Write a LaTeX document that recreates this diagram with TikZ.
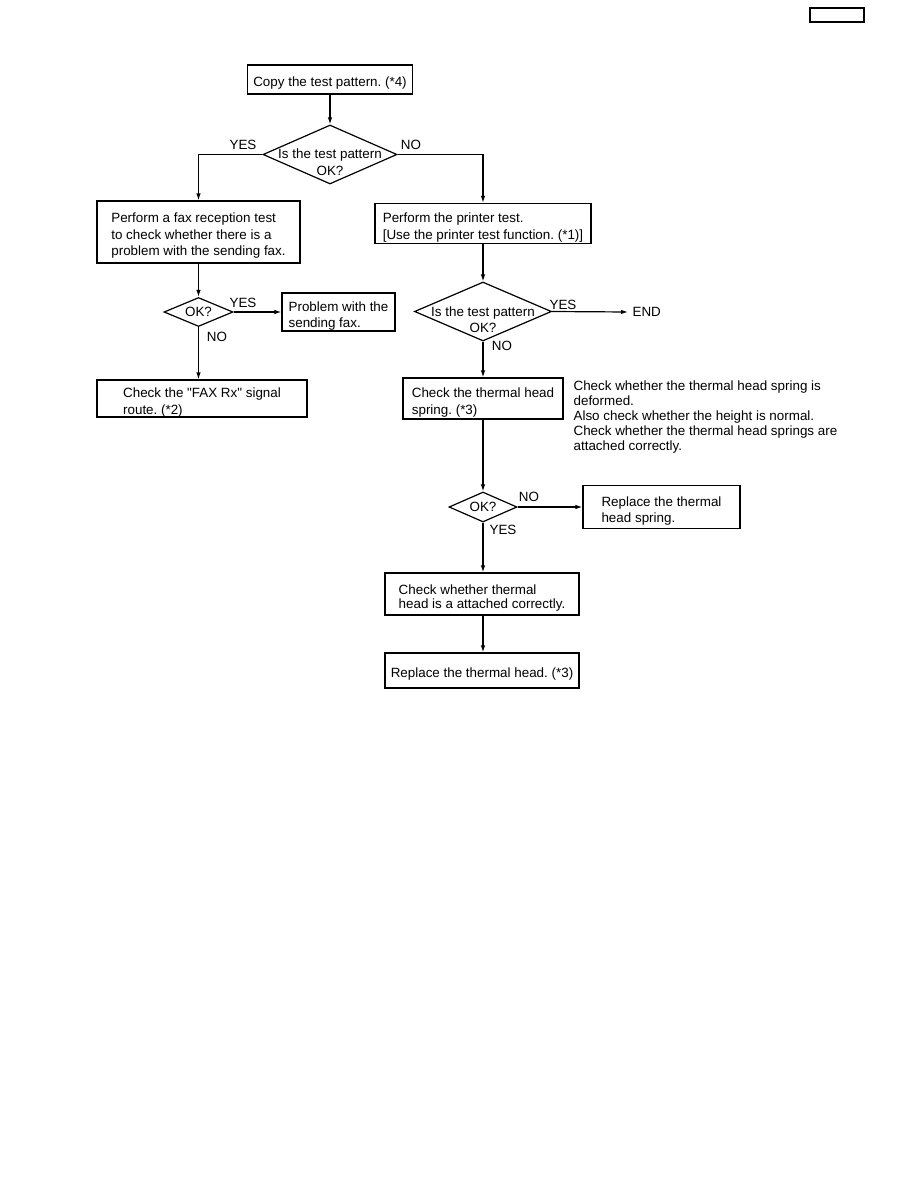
\documentclass[tikz,border=0pt]{standalone}
\usepackage{fontspec}
\setmainfont{Liberation Sans}[Ligatures=TeXOff]
\usetikzlibrary{arrows.meta, shapes.geometric, calc}
\frenchspacing
% strut that pushes box text down a little
\newcommand\tp{\rule{0pt}{17.5pt}}

\begin{document}
\begin{tikzpicture}[x=1pt, y=-1pt, line width=1.2pt,
  >={Latex[length=7pt,width=4.5pt]},
  font=\fontsize{13.4}{16.5}\selectfont,
  box/.style={draw, rectangle, align=left, inner xsep=2pt, inner ysep=0pt},
  decision/.style={draw, diamond, inner sep=0pt},
  qtext/.style={align=center, inner sep=0pt},
  lbl/.style={inner sep=0pt}]
\useasboundingbox (0,0) rectangle (918,1188);

% Page box
\node[draw, minimum width=54pt, minimum height=14pt, inner sep=0pt] (pagebox) at (837,15) {};

% Start
\node[box, minimum width=165pt, minimum height=29pt] (copy) at (330,79.5) {\tp Copy the test pattern. (*4)};
\node[decision, minimum width=134pt, minimum height=59pt] (q1) at (330,154.5) {};
\node[qtext] (q1t) at ([yshift=-7.5pt]q1.center) {Is the test pattern\\OK?};
\node[lbl] (yes1) at (243,145) {YES};
\node[lbl] (no1) at (411,145) {NO};

% Left branch
\node[box, minimum width=203pt, minimum height=62pt] (fax) at (198.5,232) {\tp Perform a fax reception test\\to check whether there is a\\problem with the sending fax.};
\node[decision, minimum width=69pt, minimum height=29pt] (ok1) at (198.5,312) {};
\node[qtext] (ok1t) at (ok1.center) {OK?};
\node[lbl] (yes2) at (243,303) {YES};
\node[lbl] (no2) at (217,337) {NO};
\node[box, minimum width=113pt, minimum height=38pt] (prob) at (338.5,312) {\tp Problem with the\\sending fax.};
\node[box, minimum width=210pt, minimum height=37pt] (faxrx) at (202,398.5) {\tp Check the "FAX Rx" signal\\route. (*2)};

% Right branch
\node[box, minimum width=216pt, minimum height=40pt] (prn) at (483,223.5) {\tp Perform the printer test.\\{[}Use the printer test function. (*1)]};
\node[decision, minimum width=137pt, minimum height=59pt] (q2) at (483,311.5) {};
\node[qtext] (q2t) at ([yshift=-8pt]q2.center) {Is the test pattern\\OK?};
\node[lbl] (yes3) at (563,305) {YES};
\node[lbl] (no3) at (502,346) {NO};
\node[lbl, anchor=west, inner sep=4pt] (endt) at (628,312) {END};
\node[box, minimum width=160pt, minimum height=41pt] (spring) at (483,398.5) {\tp Check the thermal head\\spring. (*3)};
\node[lbl, anchor=north west, align=left, font=\fontsize{13.4}{15}\selectfont] (note) at (573,380) {Check whether the thermal head spring is\\deformed.\\Also check whether the height is normal.\\Check whether the thermal head springs are\\attached correctly.};
\node[decision, minimum width=68pt, minimum height=30pt] (ok2) at (483,507) {};
\node[qtext] (ok2t) at (ok2.center) {OK?};
\node[lbl] (no4) at (529,497) {NO};
\node[lbl] (yes4) at (503,530) {YES};
\node[box, minimum width=157pt, minimum height=43pt] (rspring) at (661.5,507) {\tp Replace the thermal\\head spring.};
\node[box, minimum width=194pt, minimum height=42pt, font=\fontsize{13.4}{14.5}\selectfont] (chk) at (482,594) {\tp Check whether thermal\\head is a attached correctly.};
\node[box, minimum width=194pt, minimum height=35pt] (rhead) at (482,670.5) {\tp Replace the thermal head. (*3)};

% Connectors
\draw[->] (copy.south) -- (q1.north);
\draw[->] (q1.west) -| (fax.north);
\draw[->] (q1.east) -| (prn.north);
\draw[->] (fax.south) -- (ok1.north);
\draw[->] (ok1.east) -- (prob.west);
\draw[->] (ok1.south) -- (ok1.south |- faxrx.north);
\draw[->] (prn.south) -- (q2.north);
\draw[->] (q2.east) -- (endt.west);
\draw[->] (q2.south) -- (spring.north);
\draw[->] (spring.south) -- (ok2.north);
\draw[->] (ok2.east) -- (rspring.west);
\draw[->] (ok2.south) -- (ok2.south |- chk.north);
\draw[->] (ok2.south |- chk.south) -- (ok2.south |- rhead.north);
\end{tikzpicture}
\end{document}
